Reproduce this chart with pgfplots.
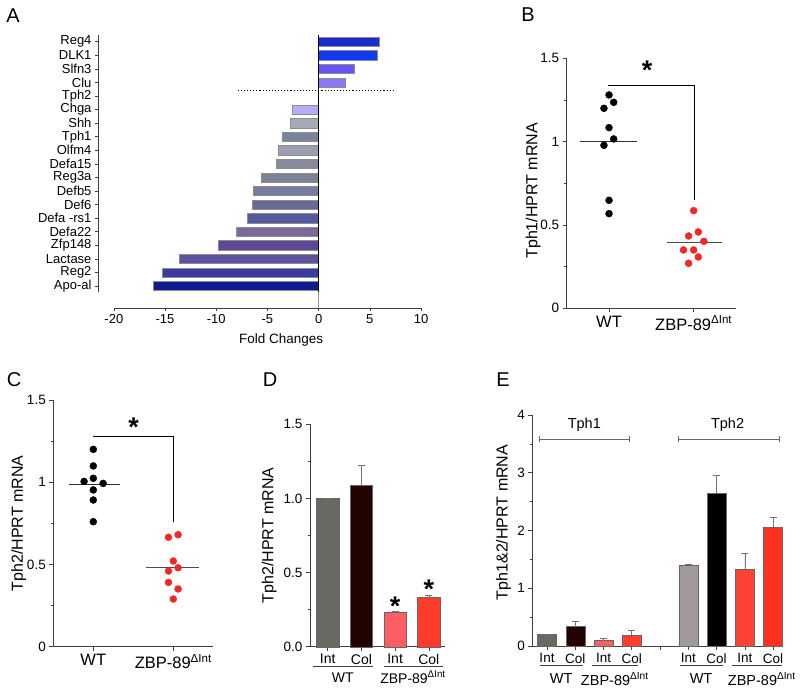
\documentclass[border=0pt]{standalone}
\usepackage{fontspec}
\setmainfont{Liberation Sans}
\usepackage{pgfplots}
\pgfplotsset{compat=1.18}

\newcommand\fs[1]{\fontsize{#1}{#1}\selectfont}

% bar colours, panel A (bottom row 0 .. top row 18)
\definecolor{a18}{RGB}{26,44,204}
\definecolor{a17}{RGB}{21,56,245}
\definecolor{a16}{RGB}{104,84,246}
\definecolor{a15}{RGB}{138,120,248}
\definecolor{a13}{RGB}{182,172,250}
\definecolor{a12}{RGB}{166,170,178}
\definecolor{a11}{RGB}{122,132,152}
\definecolor{a10}{RGB}{156,158,178}
\definecolor{a9}{RGB}{138,138,156}
\definecolor{a8}{RGB}{122,130,148}
\definecolor{a7}{RGB}{118,124,158}
\definecolor{a6}{RGB}{102,106,148}
\definecolor{a5}{RGB}{84,90,158}
\definecolor{a4}{RGB}{122,106,156}
\definecolor{a3}{RGB}{94,72,150}
\definecolor{a2}{RGB}{92,82,160}
\definecolor{a1}{RGB}{58,60,162}
\definecolor{a0}{RGB}{12,28,140}
% panels B-E
\definecolor{zred}{RGB}{240,40,40}
\definecolor{wtint}{RGB}{106,105,98}
\definecolor{wtcol}{RGB}{36,3,3}
\definecolor{zint}{RGB}{255,94,100}
\definecolor{zcol}{RGB}{255,60,44}
\definecolor{wtint2}{RGB}{162,154,154}
\definecolor{zint2}{RGB}{255,66,52}
\definecolor{zcol2}{RGB}{255,50,32}

\tikzset{sigstar/.style={font=\fs{27}\bfseries, anchor=north, inner sep=0pt}}

\pgfplotsset{
  gp/.style={
    scale only axis, enlargelimits=false, clip=false,
    axis x line*=bottom, axis y line*=left, tick align=outside,
    axis line style={black!75, line width=0.6pt},
    every tick/.style={black!75, line width=0.6pt},
    major tick length=4pt, minor tick length=2.5pt,
    tick label style={font=\fs{13.5}},
    label style={font=\fs{16}},
    /pgf/number format/assume math mode=true,
  },
  gpbar/.style={gp, ybar, bar shift=0pt,
    error bars/y dir=plus, error bars/y explicit,
    error bars/error bar style={black!55, line width=0.6pt},
    error bars/error mark options={black!55, line width=0.6pt, mark size=3.5pt, rotate=90},
  },
}

\begin{document}
\begin{tikzpicture}
\path[use as bounding box] (0,0) rectangle (800pt,-692pt);

% ---------------- A ----------------
\begin{axis}[gp, at={(98pt,-308pt)}, anchor=south west,
  width=323pt, height=273pt,
  xbar, bar shift=0pt, bar width=9.3pt,
  xmin=-21.55, xmax=10, ymin=-1.62, ymax=18.49,
  xtick={-20,-15,...,10}, ytick={0,...,18},
  yticklabels={Apo-al,Reg2,Lactase,Zfp148,Defa22,Defa -rs1,Def6,Defb5,Reg3a,
    Defa15,Olfm4,Tph1,Shh,Chga,Tph2,Clu,Slfn3,DLK1,Reg4},
  tick label style={font=\fs{13}},
  major tick length=3pt,
  x axis line style={shorten <=16pt},
  y axis line style={shorten <=16pt},
  xlabel={Fold Changes},
  xlabel style={font=\fs{13.5}, at={(axis description cs:0.567,0)}, anchor=center, yshift=-32pt},
]
\addplot[fill=a18, draw=black!45] coordinates {(5.9,18)};
\addplot[fill=a17, draw=black!45] coordinates {(5.7,17)};
\addplot[fill=a16, draw=black!45] coordinates {(3.5,16)};
\addplot[fill=a15, draw=black!45] coordinates {(2.55,15)};
\addplot[fill=a13, draw=black!45] coordinates {(-2.55,13)};
\addplot[fill=a12, draw=black!45] coordinates {(-2.77,12)};
\addplot[fill=a11, draw=black!45] coordinates {(-3.55,11)};
\addplot[fill=a10, draw=black!45] coordinates {(-3.94,10)};
\addplot[fill=a9,  draw=black!45] coordinates {(-4.13,9)};
\addplot[fill=a8,  draw=black!45] coordinates {(-5.6,8)};
\addplot[fill=a7,  draw=black!45] coordinates {(-6.4,7)};
\addplot[fill=a6,  draw=black!45] coordinates {(-6.5,6)};
\addplot[fill=a5,  draw=black!45] coordinates {(-6.97,5)};
\addplot[fill=a4,  draw=black!45] coordinates {(-8.05,4)};
\addplot[fill=a3,  draw=black!45] coordinates {(-9.78,3)};
\addplot[fill=a2,  draw=black!45] coordinates {(-13.65,2)};
\addplot[fill=a1,  draw=black!45] coordinates {(-15.25,1)};
\addplot[fill=a0,  draw=black!45] coordinates {(-16.16,0)};
\addplot[sharp plot, black, dotted, line width=1.1pt] coordinates {(-7.9,14.37) (7.4,14.37)};
\draw[black, line width=0.8pt] (axis cs:0,-0.44) -- (axis cs:0,18.49);
\draw[black!40, line width=0.5pt] (axis cs:0,-1.62) -- (axis cs:0,-0.44);
\end{axis}

% ---------------- B ----------------
\begin{axis}[gp, at={(566.7pt,-308.3pt)}, anchor=south west,
  width=169.3pt, height=250pt,
  xmin=0.5, xmax=2.5, ymin=0, ymax=1.5,
  ytick={0,0.5,1,1.5}, minor ytick={0.25,0.75,1.25},
  xtick={1,2}, xticklabels={WT, ZBP-89\textsuperscript{ΔInt}},
  xticklabel style={font=\fs{16.5}},
  ylabel={Tph1/HPRT mRNA},
  ylabel style={at={(axis description cs:-0.197,0.47)}, anchor=center},
]
\addplot[only marks, mark=*, mark size=3.5pt, black] coordinates {
  (1,1.28) (0.94,1.20) (1.055,1.236) (1,1.084) (1.055,1.016) (0.94,0.978) (1,0.648) (1,0.568)};
\addplot[only marks, mark=*, mark size=3.5pt, zred] coordinates {
  (2,0.586) (1.94,0.434) (2.055,0.458) (2.12,0.402) (1.88,0.35) (2,0.35) (2.055,0.308) (1.94,0.27)};
\addplot[black!80, line width=0.7pt] coordinates {(0.66,1.0) (1.33,1.0)};
\addplot[black!70, line width=0.7pt] coordinates {(1.68,0.394) (2.33,0.394)};
\addplot[black, line width=0.8pt] coordinates {(0.99,1.336) (2.01,1.336) (2.01,0.65)};
\node[sigstar] at (axis cs:1.45,1.485) {*};
\end{axis}

% ---------------- C ----------------
\begin{axis}[gp, at={(53.3pt,-646.7pt)}, anchor=south west,
  width=160pt, height=246.7pt,
  xmin=0.5, xmax=2.5, ymin=0, ymax=1.5,
  ytick={0,0.5,1,1.5}, minor ytick={0.25,0.75,1.25},
  xtick={1,2}, xticklabels={WT, ZBP-89\textsuperscript{ΔInt}},
  xticklabel style={font=\fs{16.5}},
  ylabel={Tph2/HPRT mRNA},
  ylabel style={at={(axis description cs:-0.216,0.5)}, anchor=center},
]
\addplot[only marks, mark=*, mark size=3.5pt, black] coordinates {
  (1,1.2) (1,1.099) (0.885,1.005) (1,1.024) (1.123,0.993) (1,0.953) (1,0.892) (1,0.76)};
\addplot[only marks, mark=*, mark size=3.5pt, zred] coordinates {
  (1.94,0.665) (2.06,0.681) (2,0.521) (1.94,0.46) (2.06,0.48) (1.94,0.391) (2.06,0.351) (2,0.29)};
\addplot[black!80, line width=0.7pt] coordinates {(0.70,0.99) (1.33,0.99)};
\addplot[black!70, line width=0.7pt] coordinates {(1.66,0.48) (2.32,0.48)};
\addplot[black, line width=0.8pt] coordinates {(1,1.281) (2,1.281) (2,0.76)};
\node[sigstar] at (axis cs:1.505,1.39) {*};
\end{axis}

% ---------------- D ----------------
\begin{axis}[gpbar, at={(310pt,-646.7pt)}, anchor=south west,
  width=135pt, height=222.4pt, bar width=22.3pt,
  xmin=0.475, xmax=4.48, ymin=0, ymax=1.5,
  ytick={0,0.5,1,1.5}, minor ytick={0.25,0.75,1.25},
  yticklabel style={/pgf/number format/.cd, fixed, fixed zerofill, precision=1},
  xtick={1,2,3,4}, xticklabels={Int,Col,Int,Col},
  xticklabel style={font=\fs{14}},
  ylabel={Tph2/HPRT mRNA},
  ylabel style={at={(axis description cs:-0.302,0.5)}, anchor=center},
]
\addplot[fill=wtint, draw=black!60] coordinates {(1,1.0) +- (0,0.002)};
\addplot[fill=wtcol, draw=black!60] coordinates {(2,1.09) +- (0,0.133)};
\addplot[fill=zint, draw=black!60] coordinates {(3,0.234) +- (0,0.007)};
\addplot[fill=zcol, draw=black!60] coordinates {(4,0.333) +- (0,0.011)};
\node[sigstar] at (axis cs:3,0.335) {*};
\node[sigstar] at (axis cs:4,0.45) {*};
\draw[black!75, line width=0.6pt] ([yshift=-19.8pt]axis cs:0.56,0) -- ([yshift=-19.8pt]axis cs:2.34,0);
\draw[black!75, line width=0.6pt] ([yshift=-19.8pt]axis cs:2.67,0) -- ([yshift=-19.8pt]axis cs:4.41,0);
\node[font=\fs{14}] at ([yshift=-30.5pt]axis cs:1.45,0) {WT};
\node[font=\fs{14}] at ([yshift=-30.5pt]axis cs:3.53,0) {ZBP-89\textsuperscript{ΔInt}};
\end{axis}

% ---------------- E ----------------
\begin{axis}[gpbar, at={(532.3pt,-646pt)}, anchor=south west,
  width=250.4pt, height=231pt, bar width=19pt,
  xmin=0.48, xmax=9.34, ymin=0, ymax=4,
  ytick={0,...,4}, minor ytick={0.5,1.5,2.5,3.5},
  xtick={1,...,9}, xticklabels={Int,Col,Int,Col,,Int,Col,Int,Col},
  xticklabel style={font=\fs{13.5}},
  ylabel={Tph1\&2/HPRT mRNA},
  ylabel style={at={(axis description cs:-0.115,0.535)}, anchor=center},
]
\addplot[fill=wtint, draw=black!60] coordinates {(1,0.2) +- (0,0.004)};
\addplot[fill=wtcol, draw=black!60] coordinates {(2,0.335) +- (0,0.098)};
\addplot[fill=zint, draw=black!60] coordinates {(3,0.092) +- (0,0.041)};
\addplot[fill=zcol, draw=black!60] coordinates {(4,0.19) +- (0,0.087)};
\addplot[fill=wtint2, draw=black!60] coordinates {(6,1.40) +- (0,0.012)};
\addplot[fill=black, draw=black!60] coordinates {(7,2.638) +- (0,0.312)};
\addplot[fill=zint2, draw=black!60] coordinates {(8,1.328) +- (0,0.277)};
\addplot[fill=zcol2, draw=black!60] coordinates {(9,2.055) +- (0,0.179)};
% Tph1 / Tph2 brackets
\addplot[sharp plot, black!60, line width=0.6pt] coordinates {(0.72,3.58) (3.91,3.58)};
\addplot[sharp plot, black!60, line width=0.6pt] coordinates {(0.72,3.53) (0.72,3.63)};
\addplot[sharp plot, black!60, line width=0.6pt] coordinates {(3.91,3.53) (3.91,3.63)};
\addplot[sharp plot, black!60, line width=0.6pt] coordinates {(5.66,3.58) (9.21,3.58)};
\addplot[sharp plot, black!60, line width=0.6pt] coordinates {(5.66,3.53) (5.66,3.63)};
\addplot[sharp plot, black!60, line width=0.6pt] coordinates {(9.21,3.53) (9.21,3.63)};
\node[font=\fs{14.5}] at (axis cs:2.32,3.83) {Tph1};
\node[font=\fs{14.5}] at (axis cs:7.39,3.83) {Tph2};
\draw[black!75, line width=0.6pt] ([yshift=-19pt]axis cs:0.75,0) -- ([yshift=-19pt]axis cs:2.28,0);
\draw[black!75, line width=0.6pt] ([yshift=-19pt]axis cs:2.58,0) -- ([yshift=-19pt]axis cs:4.23,0);
\draw[black!75, line width=0.6pt] ([yshift=-19pt]axis cs:5.7,0) -- ([yshift=-19pt]axis cs:7.21,0);
\draw[black!75, line width=0.6pt] ([yshift=-19pt]axis cs:7.56,0) -- ([yshift=-19pt]axis cs:9.3,0);
\node[font=\fs{14.5}] at ([yshift=-33pt]axis cs:1.5,0) {WT};
\node[font=\fs{14.5}] at ([yshift=-33pt]axis cs:3.4,0) {ZBP-89\textsuperscript{ΔInt}};
\node[font=\fs{14.5}] at ([yshift=-33pt]axis cs:6.45,0) {WT};
\node[font=\fs{14.5}] at ([yshift=-33pt]axis cs:8.6,0) {ZBP-89\textsuperscript{ΔInt}};
\end{axis}

% panel letters
\node[font=\fs{20}] at (13pt,-16pt) {A};
\node[font=\fs{20}] at (528pt,-15pt) {B};
\node[font=\fs{20}] at (14pt,-380pt) {C};
\node[font=\fs{20}] at (270pt,-380pt) {D};
\node[font=\fs{20}] at (503pt,-380pt) {E};
\end{tikzpicture}
\end{document}
